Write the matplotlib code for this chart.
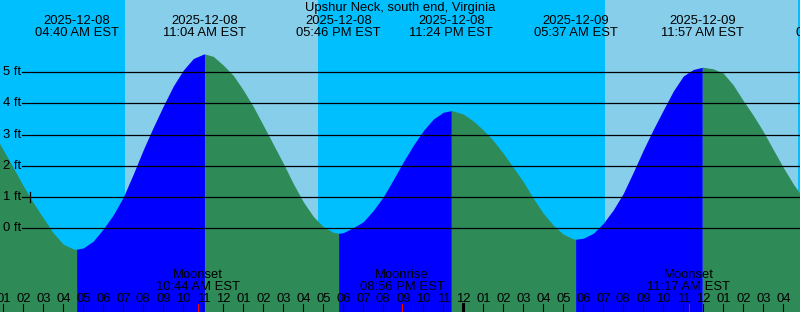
import numpy as np
import pandas as pd
import matplotlib
matplotlib.use('Agg')
import matplotlib.pyplot as plt

plt.rcParams['font.family'] = ['Liberation Sans', 'DejaVu Sans']

station = 'Upshur Neck, south end, Virginia'
start = pd.Timestamp('2025-12-08 00:00')

# water level (ft) every 30 minutes, starting 2025-12-08 00:00
levels_30min = [3.54, 3.06, 2.51, 1.94, 1.36, 0.82, 0.33, -0.15, -0.51, -0.66,
                -0.63, -0.41, -0.02, 0.43, 1.00, 1.74, 2.52, 3.24, 3.92, 4.56,
                5.07, 5.44, 5.58, 5.51, 5.23, 4.90, 4.43, 3.90, 3.30, 2.69,
                2.08, 1.43, 0.85, 0.38, 0.05, -0.13, -0.14, 0.02, 0.21, 0.57,
                1.01, 1.56, 2.13, 2.66, 3.13, 3.50, 3.72, 3.76, 3.66, 3.44,
                3.15, 2.81, 2.40, 1.95, 1.49, 0.96, 0.48, 0.10, -0.19, -0.34,
                -0.32, -0.16, 0.16, 0.59, 1.12, 1.80, 2.51, 3.17, 3.79, 4.40,
                4.88, 5.09, 5.16, 5.11, 4.97, 4.59, 4.09, 3.62, 3.10, 2.52,
                1.95, 1.42, 0.97]

# highs and lows
tide_dates = ['2025-12-08', '2025-12-08', '2025-12-08', '2025-12-08',
              '2025-12-09', '2025-12-09', '2025-12-09']
tide_times = ['04:40 AM EST', '11:04 AM EST', '05:46 PM EST', '11:24 PM EST',
              '05:37 AM EST', '11:57 AM EST', '06:46 PM EST']
tide_levels = [-0.67, 5.59, -0.16, 3.77, -0.35, 5.16, 0.30]

# daylight
sunrise = ['2025-12-08 07:05 AM', '2025-12-09 07:05 AM']
sunset = ['2025-12-08 04:43 PM', '2025-12-09 04:43 PM']

# moon
moon_names = ['Moonset', 'Moonrise', 'Moonset']
moon_dates = ['2025-12-08', '2025-12-08', '2025-12-09']
moon_times = ['10:44 AM EST', '08:56 PM EST', '11:17 AM EST']

# short mark on the 1 ft line
mark_time = '2025-12-08 02:20 AM'
mark_level = 1.0

ft_levels = [0, 1, 2, 3, 4, 5]


def to_hours(s):
    return (pd.Timestamp(s.replace(' EST', '')) - start) / pd.Timedelta(hours=1)


W, H = 800, 312
FS = 9.4
NIGHT = '#00bfff'
DAY = '#87ceeb'
RISE = '#0000ff'
FALL = '#2e8b57'

tide_hours = [to_hours(d + ' ' + t) for d, t in zip(tide_dates, tide_times)]
moon_hours = [to_hours(d + ' ' + t) for d, t in zip(moon_dates, moon_times)]

t = np.concatenate([np.arange(len(levels_30min)) * 0.5, tide_hours])
h = np.concatenate([levels_30min, tide_levels])
order = np.argsort(t)
t, h = t[order], h[order]

fig = plt.figure(figsize=(W / 100, H / 100), dpi=100)
ax = fig.add_axes([0, 0, 1, 1])
x0, x1 = 0.835, 40.835
y0, y1 = -2.683, 7.317
ax.set_xlim(x0, x1)
ax.set_ylim(y0, y1)
ax.axis('off')
xt = ax.get_xaxis_transform()

# night / day background
ax.axvspan(-5, 50, color=NIGHT, lw=0, zorder=0)
for a, b in zip(sunrise, sunset):
    ax.axvspan(to_hours(a), to_hours(b), color=DAY, lw=0, zorder=1)

# tide curve, blue while rising, green while falling
bounds = [t.min()] + tide_hours + [t.max()]
for a, b in zip(bounds[:-1], bounds[1:]):
    if b <= a:
        continue
    m = (t >= a) & (t <= b)
    col = RISE if h[m][-1] > h[m][0] else FALL
    ax.fill_between(t[m], h[m], y0 - 1, color=col, lw=0, zorder=2)

# level lines
for lv in ft_levels:
    ax.axhline(lv, xmin=22 / W, xmax=1, color='black', lw=0.9, zorder=3)
    ax.text(3 / W, lv, f'{lv} ft', transform=ax.get_yaxis_transform(),
            ha='left', va='center', fontsize=FS, zorder=4)

mh = to_hours(mark_time)
ax.plot([mh, mh], [mark_level - 0.16, mark_level + 0.16], color='black', lw=0.9, zorder=4)

# title and tide labels
fig.text(0.5, 1 - 11.3 / H, station, ha='center', va='baseline', fontsize=FS)
for th, d, tm in zip(tide_hours, tide_dates, tide_times):
    ax.text(th, 1 - 24 / H, d, transform=xt, ha='center', va='baseline', fontsize=FS, zorder=5)
    ax.text(th, 1 - 36 / H, tm, transform=xt, ha='center', va='baseline', fontsize=FS, zorder=5)

# moon labels
for mhr, name, tm in zip(moon_hours, moon_names, moon_times):
    ax.text(mhr, 1 - 278.3 / H, name, transform=xt, ha='center', va='baseline', fontsize=FS, zorder=5)
    ax.text(mhr, 1 - 290 / H, tm, transform=xt, ha='center', va='baseline', fontsize=FS, zorder=5)

# hour ticks and labels
tick_top = 8 / H
for hr in range(1, 41):
    ax.text(hr, 1 - 302.3 / H, f'{(hr - 1) % 12 + 1:02d}', transform=xt,
            ha='center', va='baseline', fontsize=FS, zorder=5)
    lw = 2.2 if hr % 24 == 0 else 0.8
    ax.plot([hr, hr], [0, tick_top], transform=xt, color='black', lw=lw, zorder=5)
for mhr in moon_hours:
    ax.plot([mhr, mhr], [0, tick_top], transform=xt, color='red', lw=0.8, zorder=6)

fig.savefig('out.png', dpi=100)
